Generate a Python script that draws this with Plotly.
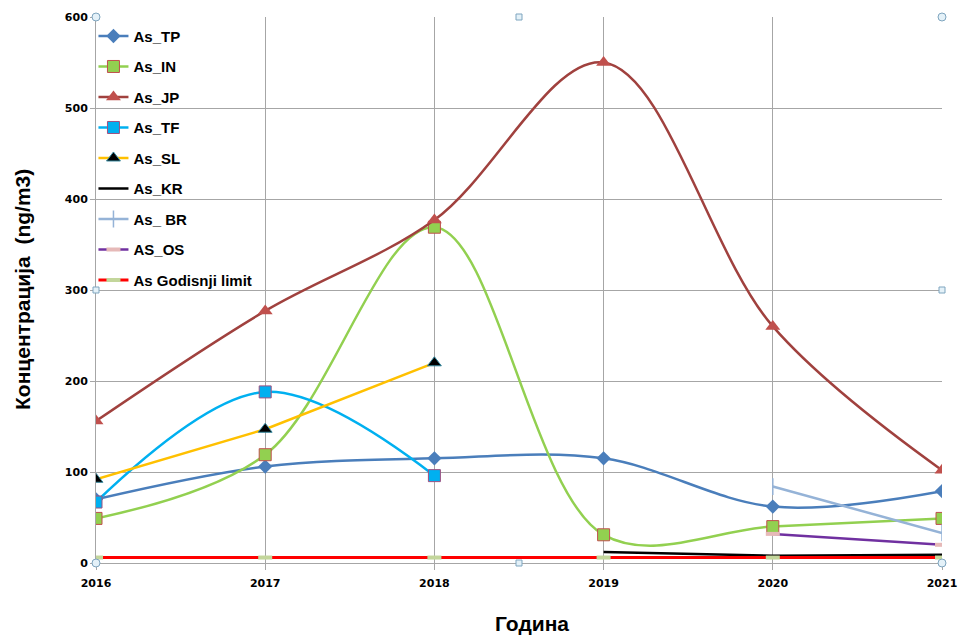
import plotly.graph_objects as go

years = [2016, 2017, 2018, 2019, 2020, 2021]

tp_years = [2016, 2017, 2018, 2019, 2020, 2021]
tp_vals = [70, 106, 115, 115, 62, 79]

in_years = [2016, 2017, 2018, 2019, 2020, 2021]
in_vals = [49, 119, 369, 31, 40, 49]

jp_years = [2016, 2017, 2018, 2019, 2020, 2021]
jp_vals = [156, 277, 377, 550, 260, 102]

tf_years = [2016, 2017, 2018]
tf_vals = [67, 188, 96]

sl_years = [2016, 2017, 2018]
sl_vals = [92, 147, 220]

kr_years = [2019, 2020, 2021]
kr_vals = [12, 8, 9]

br_years = [2020, 2021]
br_vals = [84, 33]

os_years = [2020, 2021]
os_vals = [32, 20]

lim_years = [2016, 2017, 2018, 2019, 2020, 2021]
lim_vals = [6, 6, 6, 6, 6, 6]

fig = go.Figure()

def add(name, x, y, color, width, shape, msym, msize, mcolor, mline, mlw, group):
    fig.add_trace(go.Scatter(
        x=x, y=y, name=name, mode="lines+markers" if msym else "lines",
        line=dict(color=color, width=width, shape=shape, smoothing=1.0),
        marker=dict(symbol=msym or "circle", size=msize, color=mcolor,
                    line=dict(color=mline, width=mlw)),
        legendgroup=group,
    ))

add("As_TP", tp_years, tp_vals, "#4A7EBB", 2.5, "spline", "diamond", 11, "#4A7EBB", "#4A7EBB", 0, "g1")
add("As_IN", in_years, in_vals, "#92D050", 2.5, "spline", "square", 12, "#92D050", "#C0504D", 1, "g2")
add("As_JP", jp_years, jp_vals, "#A0413E", 2.5, "spline", "triangle-up", 13, "#C0504D", "#C0504D", 0, "g3")
add("As_TF", tf_years, tf_vals, "#00B0F0", 2.5, "spline", "square", 12, "#00B0F0", "#A05080", 1, "g4")
add("As_SL", sl_years, sl_vals, "#FFC000", 2.5, "linear", "triangle-up", 12, "#000000", "#31859C", 1, "g5")
add("As_KR", kr_years, kr_vals, "#000000", 2.5, "linear", None, 6, "#000000", "#000000", 0, "g6")
add("As_ BR", br_years, br_vals, "#95B3D7", 2.5, "linear", "line-ns", 12, "#95B3D7", "#95B3D7", 1.5, "g7")
add("AS_OS", os_years, os_vals, "#7030A0", 2.5, "linear", "line-ew", 10, "#E6B9B8", "#E6B9B8", 4, "g8")
add("As Godisnji limit", lim_years, lim_vals, "#FF0000", 3, "linear", "line-ew", 10, "#C3D69B", "#C3D69B", 4, "g9")

# Selection handles of the chart object
shapes = []
handles = [(0, 1, "circle"), (0.5, 1, "rect"), (1, 1, "circle"),
           (0, 0.5, "rect"), (1, 0.5, "rect"),
           (0, 0, "circle"), (0.5, 0, "rect"), (1, 0, "circle")]
for hx, hy, kind in handles:
    s = 4 if kind == "circle" else 3
    shapes.append(dict(
        type=kind, xref="paper", yref="paper", xsizemode="pixel", ysizemode="pixel",
        xanchor=hx, yanchor=hy, x0=-s, x1=s, y0=-s, y1=s,
        fillcolor="#E4F1F8", line=dict(color="#7FA5BF", width=1), layer="above",
    ))

title_font = dict(family="Liberation Sans", size=21, color="#000000", weight="bold")
annotations = [
    dict(text="Година", xref="paper", yref="paper", x=0.515, y=0, xanchor="center",
         yanchor="middle", yshift=-60, showarrow=False, font=title_font),
    dict(text="Концентрација\u00a0\u00a0(ng/m3)", xref="paper", yref="paper", x=0, y=0.5,
         xanchor="center", yanchor="middle", xshift=-74, textangle=-90,
         showarrow=False, font=title_font),
]

fig.update_layout(
    width=959, height=635,
    margin=dict(l=96, r=17, t=17, b=72, autoexpand=False),
    paper_bgcolor="white", plot_bgcolor="white",
    font=dict(family="DejaVu Sans", color="#000000"),
    showlegend=True,
    legend=dict(
        x=-0.003, y=0.995, xanchor="left", yanchor="top",
        bgcolor="rgba(255,255,255,0)",
        font=dict(family="Liberation Sans", size=15, color="#000000", weight="bold"),
        tracegroupgap=8, itemwidth=30,
    ),
    xaxis=dict(
        range=[2016, 2021], tickmode="array", tickvals=years,
        ticktext=[str(y) for y in years],
        showgrid=True, gridcolor="#A6A6A6", gridwidth=1,
        showline=True, linecolor="#A6A6A6", linewidth=1,
        ticks="outside", ticklen=6, tickcolor="#A6A6A6",
        tickfont=dict(family="DejaVu Sans", size=11, weight="bold"),
        ticklabelstandoff=4, ticklabeloverflow="allow",
        automargin=False, zeroline=False,
    ),
    yaxis=dict(
        range=[0, 600], dtick=100,
        showgrid=True, gridcolor="#A6A6A6", gridwidth=1,
        showline=True, linecolor="#A6A6A6", linewidth=1,
        ticks="outside", ticklen=5, tickcolor="#A6A6A6",
        tickfont=dict(family="DejaVu Sans", size=11, weight="bold"),
        automargin=False, zeroline=False,
    ),
    shapes=shapes,
    annotations=annotations,
)

# Remove the page's default 8px body margin so the 959x635 figure fills the window.
fig.write_html("out.html", config={"displayModeBar": False},
               post_script="document.body.style.margin='0';")
